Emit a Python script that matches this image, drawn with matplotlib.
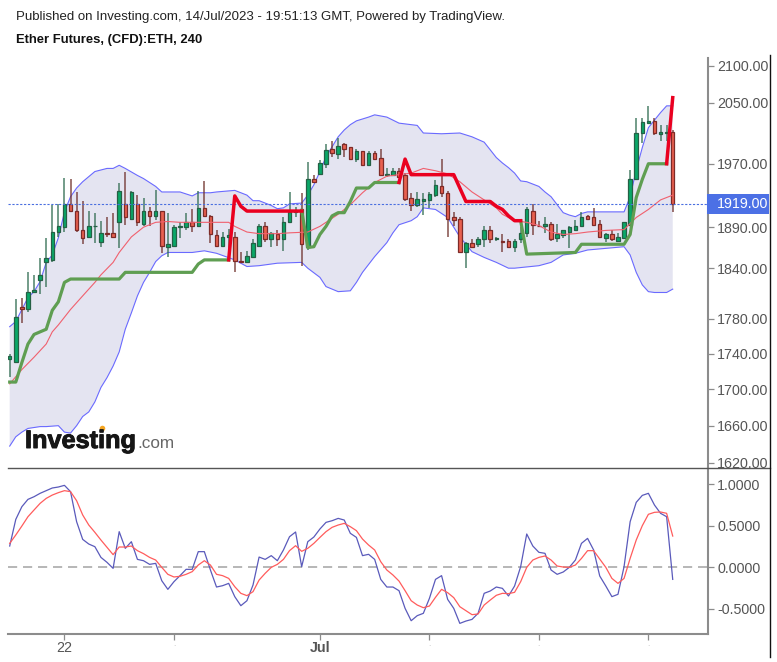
#!/usr/bin/env python3
"""Ether futures 4h candles with bands, stop line and oscillator panel."""
import matplotlib
matplotlib.use("Agg")
import matplotlib.pyplot as plt
import matplotlib.patheffects as pe
from matplotlib.lines import Line2D
from matplotlib.patches import Rectangle
from matplotlib.ticker import NullFormatter, NullLocator

plt.rcParams["font.family"] = ["Liberation Sans", "DejaVu Sans"]

# candles, one row per 4h bar
opens = [1734, 1731, 1794, 1792, 1811, 1826, 1847, 1850, 1884, 1890, 1919, 1910, 1887, 1878, 1891, 1872, 1883, 1883, 1897, 1919,
         1900, 1919, 1894, 1910, 1904, 1910, 1866, 1867, 1890, 1890, 1897, 1891, 1914, 1904, 1880, 1867, 1878, 1878, 1849, 1848,
         1854, 1867, 1892, 1875, 1882, 1875, 1896, 1909, 1912, 1866, 1951, 1957, 1970, 1989, 1983, 1996, 1992, 1976, 1986, 1969,
         1984, 1978, 1955, 1956, 1961, 1955, 1927, 1917, 1923, 1924, 1930, 1942, 1933, 1902, 1900, 1859, 1871, 1869, 1875, 1886,
         1875, 1873, 1873, 1866, 1875, 1883, 1910, 1892, 1891, 1894, 1877, 1880, 1884, 1887, 1892, 1904, 1902, 1894, 1877, 1881,
         1873, 1877, 1893, 1951, 2010, 2023, 2026, 2009, 2010, 2011]
highs = [1740, 1803, 1804, 1835, 1832, 1852, 1877, 1917, 1919, 1952, 1951, 1934, 1923, 1910, 1907, 1898, 1902, 1907, 1946, 1960,
         1935, 1930, 1927, 1915, 1937, 1910, 1908, 1893, 1896, 1907, 1912, 1935, 1948, 1905, 1886, 1884, 1888, 1884, 1860, 1861,
         1876, 1894, 1896, 1884, 1886, 1903, 1934, 1915, 1933, 1972, 1956, 1975, 1996, 2000, 2003, 1997, 1992, 1989, 1987, 1986,
         1986, 1989, 1965, 1964, 1965, 1958, 1933, 1934, 1933, 1934, 1949, 1976, 1935, 1909, 1902, 1872, 1875, 1878, 1892, 1891,
         1878, 1881, 1876, 1876, 1890, 1915, 1919, 1898, 1903, 1896, 1894, 1887, 1891, 1899, 1909, 1905, 1914, 1899, 1883, 1886,
         1883, 1897, 1962, 2030, 2030, 2046, 2030, 2020, 2021, 2014]
lows = [1714, 1730, 1775, 1788, 1811, 1809, 1817, 1848, 1878, 1884, 1909, 1884, 1869, 1878, 1871, 1866, 1878, 1878, 1864, 1893,
        1899, 1891, 1892, 1892, 1899, 1858, 1854, 1866, 1877, 1886, 1884, 1890, 1903, 1870, 1866, 1866, 1850, 1835, 1846, 1847,
        1854, 1866, 1872, 1866, 1867, 1861, 1896, 1903, 1843, 1862, 1947, 1956, 1964, 1979, 1976, 1979, 1975, 1972, 1967, 1967,
        1976, 1955, 1953, 1955, 1953, 1922, 1910, 1915, 1905, 1914, 1928, 1928, 1878, 1892, 1860, 1840, 1866, 1866, 1866, 1870,
        1873, 1860, 1864, 1860, 1871, 1878, 1880, 1890, 1883, 1873, 1872, 1877, 1864, 1886, 1891, 1899, 1891, 1878, 1872, 1873,
        1872, 1877, 1891, 1949, 1997, 2023, 2007, 2000, 1999, 1909]
closes = [1737, 1782, 1792, 1812, 1814, 1832, 1852, 1884, 1891, 1919, 1910, 1887, 1877, 1891, 1892, 1883, 1882, 1878, 1935, 1902,
          1934, 1896, 1910, 1904, 1910, 1867, 1869, 1890, 1891, 1896, 1891, 1914, 1904, 1881, 1867, 1878, 1880, 1849, 1847, 1855,
          1870, 1891, 1875, 1883, 1875, 1897, 1909, 1910, 1869, 1951, 1947, 1971, 1988, 1984, 1993, 1989, 1976, 1986, 1969, 1984,
          1976, 1956, 1957, 1961, 1953, 1925, 1918, 1925, 1925, 1932, 1943, 1933, 1900, 1899, 1860, 1871, 1866, 1876, 1886, 1875,
          1877, 1872, 1866, 1873, 1883, 1913, 1893, 1891, 1894, 1876, 1882, 1886, 1890, 1892, 1903, 1900, 1893, 1878, 1881, 1875,
          1878, 1896, 1951, 2010, 2025, 2026, 2010, 2011, 2011, 1919]

# bollinger bands and moving average, read at the visible bends
upper_bars = [0, 1, 2, 3, 4, 5, 6, 7, 8, 9, 10, 11, 12, 14, 16, 17, 18, 19, 21, 22, 23, 24, 25, 27, 28, 30, 31, 33, 34, 37, 39,
              40, 41, 42, 43, 44, 45, 46, 48, 49, 50, 51, 52, 53, 54, 55, 56, 57, 59, 60, 62, 64, 65, 67, 68, 71, 74, 76, 78, 79,
              80, 81, 82, 83, 84, 85, 86, 87, 88, 89, 90, 91, 92, 93, 94, 95, 97, 101, 102, 103, 104, 105, 106, 107, 108, 109]
upper_band = [1771, 1777, 1791, 1805, 1812, 1824, 1847, 1856, 1877, 1909, 1928, 1939, 1947, 1960, 1964, 1964, 1968, 1964, 1955, 1951,
              1946, 1941, 1934, 1934, 1934, 1929, 1933, 1933, 1934, 1936, 1930, 1923, 1923, 1920, 1917, 1913, 1914, 1919, 1920, 1930,
              1943, 1960, 1979, 1992, 2005, 2014, 2021, 2026, 2031, 2034, 2031, 2023, 2022, 2020, 2010, 2009, 2010, 2005, 1998, 1988,
              1978, 1971, 1965, 1958, 1948, 1947, 1944, 1941, 1934, 1928, 1918, 1908, 1905, 1903, 1907, 1909, 1909, 1909, 1928, 1962,
              1991, 2017, 2027, 2037, 2046, 2046]
lower_bars = [0, 1, 2, 3, 5, 6, 8, 9, 10, 11, 12, 13, 14, 15, 16, 17, 18, 19, 20, 21, 22, 23, 24, 25, 26, 28, 30, 31, 32, 34, 37,
              39, 41, 44, 48, 49, 51, 52, 54, 56, 57, 58, 60, 62, 63, 64, 66, 67, 68, 70, 72, 74, 76, 78, 80, 82, 83, 87, 89, 91,
              93, 95, 98, 101, 102, 103, 104, 105, 106, 108, 109]
lower_band = [1638, 1648, 1653, 1657, 1659, 1659, 1660, 1653, 1652, 1660, 1670, 1675, 1686, 1702, 1713, 1726, 1742, 1768, 1787, 1807,
              1823, 1835, 1848, 1855, 1859, 1859, 1859, 1860, 1861, 1858, 1850, 1842, 1843, 1846, 1847, 1840, 1829, 1818, 1812, 1813,
              1823, 1835, 1854, 1871, 1883, 1893, 1898, 1903, 1914, 1912, 1902, 1878, 1860, 1853, 1847, 1840, 1840, 1843, 1847, 1856,
              1858, 1862, 1864, 1866, 1856, 1835, 1820, 1812, 1811, 1811, 1815]
ma_bars = [0, 2, 4, 6, 7, 8, 10, 12, 14, 15, 17, 18, 20, 22, 24, 26, 28, 30, 34, 36, 37, 39, 41, 44, 46, 49, 51, 52, 54, 56, 58,
           60, 62, 64, 66, 68, 70, 72, 74, 76, 78, 80, 81, 83, 85, 87, 89, 91, 93, 95, 98, 101, 103, 105, 107, 109]
ma_line = [1706, 1722, 1736, 1751, 1765, 1773, 1791, 1807, 1823, 1832, 1847, 1859, 1878, 1890, 1896, 1897, 1896, 1896, 1896, 1896,
           1891, 1884, 1882, 1882, 1883, 1884, 1891, 1896, 1906, 1918, 1933, 1946, 1954, 1956, 1958, 1964, 1961, 1957, 1947, 1934,
           1924, 1914, 1906, 1898, 1896, 1892, 1884, 1881, 1882, 1884, 1886, 1887, 1902, 1912, 1924, 1930]

# stop line, one list per colour run
stop_green_bars = [[0, 1, 2, 3, 4, 5, 6, 7, 8, 9, 10, 18, 19, 30, 31, 32, 36],
                   [48, 49, 50, 51, 52, 53, 54, 55, 56, 57, 58, 59, 60, 61, 64],
                   [84, 85, 93, 94, 101, 102, 103, 104, 105, 108]]
stop_green = [[1708, 1708, 1730, 1751, 1762, 1765, 1768, 1790, 1800, 1823, 1827, 1827, 1835, 1835, 1845, 1850, 1850],
              [1911, 1865, 1866, 1881, 1891, 1904, 1908, 1908, 1922, 1939, 1939, 1939, 1946, 1946, 1946],
              [1898, 1857, 1859, 1869, 1869, 1881, 1927, 1950, 1970, 1970]]
stop_red_bars = [[36, 37, 38, 39, 41, 48],
                 [64, 65, 66, 73, 74, 75, 79, 80, 81, 82, 83, 84],
                 [108, 109]]
stop_red = [[1850, 1929, 1916, 1910, 1910, 1910],
            [1946, 1976, 1956, 1956, 1939, 1922, 1922, 1916, 1912, 1904, 1898, 1898],
            [1970, 2057]]

# oscillator panel, one value per bar
osc_main = [0.253, 0.574, 0.727, 0.815, 0.847, 0.888, 0.92, 0.952, 0.964, 0.984, 0.908, 0.546, 0.333, 0.277, 0.245, 0.116, 0.056,
            -0.016, 0.426, 0.225, 0.305, 0.092, 0.076, 0.032, 0.044, -0.165, -0.269, -0.177, -0.104, -0.028, -0.028, 0.185, 0.185,
            -0.036, -0.241, -0.225, -0.197, -0.357, -0.466, -0.406, -0.217, 0.12, 0.092, 0.137, 0.076, 0.205, 0.365, 0.422, 0.004,
            0.305, 0.361, 0.458, 0.538, 0.558, 0.586, 0.566, 0.406, 0.357, 0.137, 0.153, 0.092, -0.149, -0.241, -0.241, -0.285,
            -0.498, -0.647, -0.586, -0.558, -0.378, -0.149, -0.104, -0.39, -0.498, -0.679, -0.651, -0.631, -0.558, -0.317, -0.289,
            -0.241, -0.257, -0.349, -0.229, 0.004, 0.398, 0.253, 0.177, 0.165, -0.036, -0.088, -0.06, -0.004, 0.084, 0.285, 0.345,
            0.205, -0.108, -0.229, -0.357, -0.329, 0.004, 0.546, 0.779, 0.863, 0.888, 0.747, 0.647, 0.606, -0.149]
osc_signal = [0.285, 0.386, 0.494, 0.606, 0.687, 0.767, 0.827, 0.867, 0.896, 0.92, 0.908, 0.799, 0.627, 0.506, 0.418, 0.325, 0.237,
              0.149, 0.241, 0.241, 0.253, 0.197, 0.161, 0.116, 0.084, -0.004, -0.088, -0.12, -0.112, -0.088, -0.056, 0.024, 0.076,
              0.024, -0.088, -0.104, -0.137, -0.237, -0.317, -0.345, -0.297, -0.157, -0.076, -0.004, 0.032, 0.092, 0.197, 0.257,
              0.189, 0.225, 0.285, 0.357, 0.426, 0.478, 0.506, 0.526, 0.486, 0.438, 0.337, 0.265, 0.205, 0.064, -0.036, -0.096,
              -0.169, -0.285, -0.406, -0.458, -0.49, -0.47, -0.365, -0.269, -0.309, -0.369, -0.478, -0.526, -0.574, -0.566, -0.458,
              -0.398, -0.341, -0.317, -0.321, -0.305, -0.177, -0.004, 0.084, 0.116, 0.133, 0.084, 0.012, 0.0, -0.004, 0.024, 0.104,
              0.197, 0.197, 0.096, -0.004, -0.137, -0.197, -0.137, 0.104, 0.325, 0.498, 0.635, 0.659, 0.663, 0.647, 0.373]

price_ticks = [2100, 2050, 1970, 1890, 1840, 1780, 1740, 1700, 1660, 1620]
osc_ticks = [1.0, 0.5, 0.0, -0.5]
time_ticks = [9, 27, 51, 69, 87, 105]
time_labels = ["22", ".", "Jul", ".", ".", "."]
last_price = 1919

W, H = 777, 662
PX = 1 / 100
GREY = "#555555"


def add_axes_px(fig, left, top, right, bottom):
    return fig.add_axes([left / W, 1 - bottom / H, (right - left) / W, (bottom - top) / H])


def style_panel(ax):
    ax.set_xlim(-0.28, 114.8)
    ax.yaxis.tick_right()
    for side in ["left", "top", "bottom"]:
        ax.spines[side].set_visible(False)
    ax.spines["right"].set_color("#8c8c8c")
    ax.spines["right"].set_linewidth(1.5)
    ax.tick_params(axis="y", length=4, width=0.9, color="#8c8c8c", labelcolor=GREY, labelsize=10.3, pad=2.5)


def draw_candles(ax):
    for i in range(len(opens)):
        up = closes[i] >= opens[i]
        wick = "#2e6b50" if up else "#6e2f2a"
        edge = "#256045" if up else "#7d2b28"
        face = "#0aa868" if up else "#e8604f"
        ax.vlines(i, lows[i], highs[i], color=wick, lw=1.1, alpha=0.85, zorder=3)
        ax.bar(i, abs(closes[i] - opens[i]), bottom=min(opens[i], closes[i]), width=0.58,
               color=face, edgecolor=edge, linewidth=0.9, zorder=4)


fig = plt.figure(figsize=(W * PX, H * PX), dpi=100, facecolor="white")

ax = add_axes_px(fig, 8, 58, 708, 468)
ax.set_yscale("log")
ax.set_ylim(1614.7, 2111)
style_panel(ax)
ax.set_xticks([])
ax.yaxis.set_minor_locator(NullLocator())
ax.yaxis.set_minor_formatter(NullFormatter())
ax.set_yticks(price_ticks)
ax.set_yticklabels([f"{p:.2f}" for p in price_ticks])

ax.fill(upper_bars + lower_bars[::-1], upper_band + lower_band[::-1], color="#e4e4f1", lw=0, zorder=1)
ax.plot(upper_bars, upper_band, color="#6a6aff", lw=0.8, zorder=2)
ax.plot(lower_bars, lower_band, color="#6a6aff", lw=0.8, zorder=2)
draw_candles(ax)
ax.plot(ma_bars, ma_line, color="#f0606e", lw=0.8, zorder=5)
for xs, ys in zip(stop_green_bars, stop_green):
    ax.plot(xs, ys, color="#5f9e52", lw=2.3, solid_joinstyle="round", zorder=6)
for xs, ys in zip(stop_red_bars, stop_red):
    ax.plot(xs, ys, color="#ea0020", lw=2.5, solid_joinstyle="round", zorder=6)
ax.axhline(last_price, color="#4a6fe0", lw=0.8, ls=(0, (2, 1.5)), zorder=5)

# last price tag
fig.add_artist(Rectangle((707 / W, 1 - 214 / H), 62 / W, 20 / H, transform=fig.transFigure,
                         facecolor="#4c70e5", edgecolor="none"))
fig.text(717 / W, 1 - 204 / H, f"{last_price:.2f}", color="white", fontsize=10.3, va="center", ha="left")

osc = add_axes_px(fig, 8, 468, 708, 634)
osc.set_ylim(-0.807, 1.193)
style_panel(osc)
osc.spines["bottom"].set_visible(True)
osc.spines["bottom"].set_color("#8c8c8c")
osc.spines["bottom"].set_linewidth(1.5)
osc.set_yticks(osc_ticks)
osc.set_yticklabels([f"{v:.4f}" for v in osc_ticks])
osc.axhline(0, color="#aaaaaa", lw=1.2, ls=(0, (5.5, 3.5)), zorder=1)
osc.plot(range(len(osc_main)), osc_main, color="#5a5abb", lw=0.9, zorder=2)
osc.plot(range(len(osc_signal)), osc_signal, color="#ff5c5c", lw=0.9, zorder=3)
osc.set_xticks(time_ticks)
osc.set_xticklabels(time_labels)
osc.tick_params(axis="x", length=4, width=0.9, color="#8c8c8c", labelcolor=GREY, labelsize=10.3, pad=1)
for lab in osc.get_xticklabels():
    if lab.get_text() == "Jul":
        lab.set_fontweight("bold")
    elif lab.get_text() == ".":
        lab.set_color("#bbbbbb")
        lab.set_fontsize(6)

# frame bits outside the axes
fig.add_artist(Line2D([8 / W, 770 / W], [1 - 468 / H] * 2, color="#555555", lw=1.0))
fig.add_artist(Line2D([769.5 / W] * 2, [1 - 55 / H, 1 - 657 / H], color="#111111", lw=1.0))

fig.text(16 / W, 1 - 17 / H, "Published on Investing.com, 14/Jul/2023 - 19:51:13 GMT, Powered by TradingView.",
         fontsize=9.5, color="#222222", va="center")
fig.text(16 / W, 1 - 40 / H, "Ether Futures, (CFD):ETH, 240", fontsize=9.4, fontweight="bold", color="#111111", va="center")

# logo
logo = fig.text(25 / W, 1 - 448 / H, "Investing", fontsize=18.2, fontweight="bold", color="#161616", va="baseline")
logo.set_path_effects([pe.withStroke(linewidth=0.7, foreground="#161616")])
fig.text(137 / W, 1 - 448 / H, ".com", fontsize=12.3, color="#666666", va="baseline")
fig.add_artist(Line2D([102 / W], [1 - 428 / H], marker="o", ms=4, color="#f5a623", mew=0))

fig.savefig("out.png", dpi=100)
plt.close(fig)
